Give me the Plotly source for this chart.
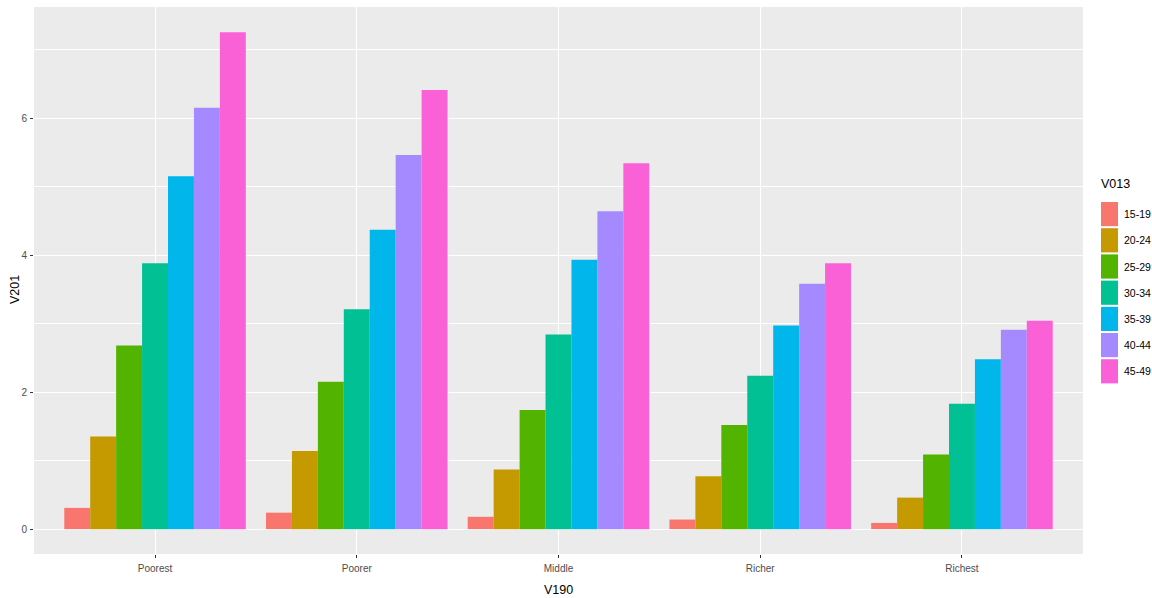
import plotly.graph_objects as go

# Wealth quintiles (V190) and mother's age groups (V013)
quintiles = ["Poorest", "Poorer", "Middle", "Richer", "Richest"]
age_groups = ["15-19", "20-24", "25-29", "30-34", "35-39", "40-44", "45-49"]

# Mean children ever born (V201) per age group, ordered by quintile
v201_15_19 = [0.31, 0.24, 0.18, 0.14, 0.09]
v201_20_24 = [1.35, 1.14, 0.87, 0.77, 0.46]
v201_25_29 = [2.68, 2.15, 1.74, 1.52, 1.09]
v201_30_34 = [3.88, 3.21, 2.84, 2.24, 1.83]
v201_35_39 = [5.15, 4.37, 3.93, 2.97, 2.48]
v201_40_44 = [6.15, 5.46, 4.64, 3.58, 2.91]
v201_45_49 = [7.25, 6.41, 5.34, 3.88, 3.04]

series = [v201_15_19, v201_20_24, v201_25_29, v201_30_34,
          v201_35_39, v201_40_44, v201_45_49]

# ggplot2 default hue palette for seven levels
colors = ["#F8766D", "#C49A00", "#53B400", "#00C094",
          "#00B6EB", "#A58AFF", "#FB61D7"]

y_ticks = [0, 2, 4, 6]

FONT = "Liberation Sans, Arial, sans-serif"

W, H = 1152, 598
ML, MR, MT, MB = 34, 69, 7, 44
PW, PH = W - ML - MR, H - MT - MB


def px_x(x):
    return (x - ML) / PW


def px_y(y):
    return 1 - (y - MT) / PH


fig = go.Figure()
for name, vals, col in zip(age_groups, series, colors):
    fig.add_trace(go.Bar(
        x=quintiles, y=vals, name=name,
        marker=dict(color=col, line=dict(width=0)),
        showlegend=False,
    ))

fig.update_layout(
    width=W, height=H,
    margin=dict(l=ML, r=MR, t=MT, b=MB, autoexpand=False),
    paper_bgcolor="white",
    plot_bgcolor="#EBEBEB",
    barmode="group",
    bargap=0.1,
    bargroupgap=0,
    font=dict(family=FONT, color="#4D4D4D", size=10),
)

fig.update_xaxes(
    type="category",
    range=[-0.6, 4.6],
    showgrid=True, gridcolor="white", gridwidth=1.1,
    ticks="outside", ticklen=3, tickcolor="#333333", tickwidth=1,
    tickfont=dict(family=FONT, size=10, color="#4D4D4D"),
    ticklabelstandoff=2,
    showline=False, zeroline=False,
    title=dict(text="V190", font=dict(family=FONT, size=12.5, color="black"),
               standoff=12),
)

fig.update_yaxes(
    range=[-0.363, 7.62],
    tickvals=y_ticks,
    showgrid=True, gridcolor="white", gridwidth=1.1,
    minor=dict(dtick=1, tick0=1, showgrid=True, gridcolor="white",
               gridwidth=0.55, ticks=""),
    ticks="outside", ticklen=3, tickcolor="#333333", tickwidth=1,
    tickfont=dict(family=FONT, size=10, color="#4D4D4D"),
    ticklabelstandoff=1,
    showline=False, zeroline=False,
)

# Y axis title, rotated, just left of the tick labels
fig.add_annotation(
    x=px_x(15), y=px_y(290), xref="paper", yref="paper",
    text="V201", showarrow=False, textangle=-90,
    xanchor="center", yanchor="middle",
    font=dict(family=FONT, size=12.5, color="black"),
)

# Legend drawn as keys and labels to the right of the panel
key_x0, key_x1 = 1101, 1118
key_top, key_step, key_h = 202, 26.2, 24.2
fig.add_annotation(
    x=px_x(1099), y=px_y(184), xref="paper", yref="paper",
    text="V013", showarrow=False, xanchor="left", yanchor="middle",
    font=dict(family=FONT, size=12.5, color="black"),
)
for i, (name, col) in enumerate(zip(age_groups, colors)):
    y0 = key_top + i * key_step
    fig.add_shape(
        type="rect", xref="paper", yref="paper",
        x0=px_x(key_x0), x1=px_x(key_x1),
        y0=px_y(y0), y1=px_y(y0 + key_h),
        fillcolor=col, line=dict(width=0), layer="above",
    )
    fig.add_annotation(
        x=px_x(1122), y=px_y(y0 + key_h / 2), xref="paper", yref="paper",
        text=name, showarrow=False, xanchor="left", yanchor="middle",
        font=dict(family=FONT, size=10.5, color="black"),
    )

fig.write_html("out.html")
